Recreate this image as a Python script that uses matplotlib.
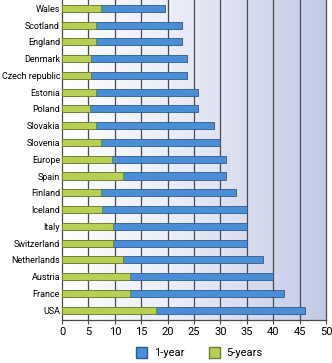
import numpy as np
import matplotlib.pyplot as plt
from matplotlib.colors import LinearSegmentedColormap
from matplotlib.patches import Patch

# data
countries = ["Wales", "Scotland", "England", "Denmark", "Czech republic", "Estonia",
             "Poland", "Slovakia", "Slovenia", "Europe", "Spain", "Finland", "Iceland",
             "Italy", "Switzerland", "Netherlands", "Austria", "France", "USA"]
one_year = [19.5, 22.8, 22.8, 23.7, 23.7, 25.8, 25.8, 28.7, 30.0, 31.0, 31.0, 33.0,
            35.0, 35.0, 35.0, 38.0, 40.0, 42.0, 46.0]
five_years = [7.3, 6.4, 6.5, 5.4, 5.5, 6.4, 5.3, 6.5, 7.4, 9.5, 11.6, 7.4, 7.5,
              9.6, 9.6, 11.6, 12.8, 12.8, 17.8]
xticks = list(range(0, 55, 5))

blue = "#4a8fd6"
blue_edge = "#2d5a8e"
green = "#b7cf55"
green_edge = "#6f7f2c"
grid_col = "#4a4a4a"

plt.rcParams["font.family"] = ["Roboto", "DejaVu Sans"]

fig = plt.figure(figsize=(3.32, 3.63), dpi=100)
ax = fig.add_axes([0.187, 0.118, 0.795, 0.882])

y = np.arange(len(countries))

# background gradient white -> lavender
cmap = LinearSegmentedColormap.from_list("bg", ["#ffffff", "#e6e9f5", "#c3cae6"])
grad = np.linspace(0, 1, 256).reshape(1, -1)
ax.imshow(grad, extent=[0, 50, 18.6, -0.5], aspect="auto", cmap=cmap, zorder=0)

for xv in xticks[1:-1]:
    ax.axvline(xv, color=grid_col, lw=0.9, zorder=1)

ax.barh(y, one_year, height=0.42, color=blue, edgecolor=blue_edge, lw=0.6, zorder=2)
ax.barh(y, five_years, height=0.42, color=green, edgecolor=green_edge, lw=0.6, zorder=3)

ax.set_xlim(0, 50)
ax.set_ylim(18.6, -0.5)
ax.set_xticks(xticks)
ax.set_yticks(y)
ax.set_yticklabels(countries, fontsize=6.5)
ax.tick_params(axis="x", labelsize=8, length=3, width=0.8, color=grid_col, pad=2)
ax.tick_params(axis="y", length=0, pad=1.5)

ax.spines["top"].set_visible(False)
for s in ["left", "bottom", "right"]:
    ax.spines[s].set_color(grid_col)
    ax.spines[s].set_linewidth(0.9)

handles = [Patch(facecolor=blue, edgecolor=blue_edge, label="1-year"),
           Patch(facecolor=green, edgecolor=green_edge, label="5-years")]
fig.legend(handles=handles, loc="center", bbox_to_anchor=(0.6, 0.028), ncol=2,
           frameon=False, fontsize=8, handlelength=1.0, handleheight=1.1,
           columnspacing=2.2, handletextpad=0.6)

fig.savefig("out.png", dpi=100)
